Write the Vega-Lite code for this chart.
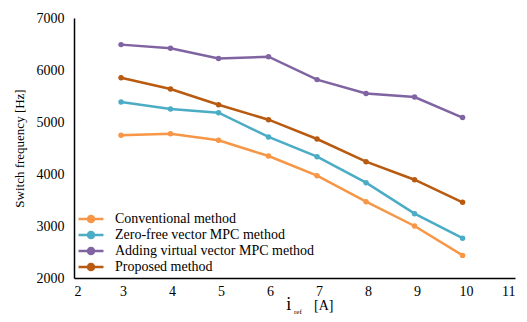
{
  "$schema": "https://vega.github.io/schema/vega-lite/v6.json",
  "autosize": "none",
  "width": 441,
  "height": 260,
  "padding": {"left": 74, "top": 18, "right": 12, "bottom": 44},
  "background": "white",
  "config": {
    "view": {"stroke": null},
    "font": "Liberation Serif",
    "axis": {"grid": false, "ticks": false, "domainColor": "#000000", "domainWidth": 1.5, "labelFont": "Liberation Serif", "labelFontSize": 14, "labelColor": "#000000", "titleFont": "Liberation Serif", "titleColor": "#000000", "titleFontWeight": "normal"},
    "legend": {"labelFont": "Liberation Serif"}
  },
  "datasets": {
    "series": [
      {"method": "Conventional  method", "iref": 2.96, "freq": 4744},
      {"method": "Conventional  method", "iref": 3.97, "freq": 4775},
      {"method": "Conventional  method", "iref": 4.95, "freq": 4648},
      {"method": "Conventional  method", "iref": 5.97, "freq": 4346},
      {"method": "Conventional  method", "iref": 6.96, "freq": 3967},
      {"method": "Conventional  method", "iref": 7.96, "freq": 3467},
      {"method": "Conventional  method", "iref": 8.95, "freq": 3000},
      {"method": "Conventional  method", "iref": 9.93, "freq": 2435},
      {"method": "Zero-free vector MPC method", "iref": 2.96, "freq": 5385},
      {"method": "Zero-free vector MPC method", "iref": 3.97, "freq": 5250},
      {"method": "Zero-free vector MPC method", "iref": 4.95, "freq": 5179},
      {"method": "Zero-free vector MPC method", "iref": 5.97, "freq": 4712},
      {"method": "Zero-free vector MPC method", "iref": 6.96, "freq": 4333},
      {"method": "Zero-free vector MPC method", "iref": 7.96, "freq": 3833},
      {"method": "Zero-free vector MPC method", "iref": 8.95, "freq": 3237},
      {"method": "Zero-free vector MPC method", "iref": 9.93, "freq": 2765},
      {"method": "Adding virtual vector MPC method", "iref": 2.96, "freq": 6488},
      {"method": "Adding virtual vector MPC method", "iref": 3.97, "freq": 6420},
      {"method": "Adding virtual vector MPC method", "iref": 4.95, "freq": 6220},
      {"method": "Adding virtual vector MPC method", "iref": 5.97, "freq": 6255},
      {"method": "Adding virtual vector MPC method", "iref": 6.96, "freq": 5815},
      {"method": "Adding virtual vector MPC method", "iref": 7.96, "freq": 5550},
      {"method": "Adding virtual vector MPC method", "iref": 8.95, "freq": 5480},
      {"method": "Adding virtual vector MPC method", "iref": 9.93, "freq": 5085},
      {"method": "Proposed method", "iref": 2.96, "freq": 5852},
      {"method": "Proposed method", "iref": 3.97, "freq": 5635},
      {"method": "Proposed method", "iref": 4.95, "freq": 5333},
      {"method": "Proposed method", "iref": 5.97, "freq": 5044},
      {"method": "Proposed method", "iref": 6.96, "freq": 4673},
      {"method": "Proposed method", "iref": 7.96, "freq": 4237},
      {"method": "Proposed method", "iref": 8.95, "freq": 3890},
      {"method": "Proposed method", "iref": 9.93, "freq": 3456}
    ],
    "xtitle": [
      {"label": "i", "x": 6.33, "y": 1380, "size": 18, "style": "italic"},
      {"label": "ref", "x": 6.49, "y": 1300, "size": 7, "style": "italic"},
      {"label": "[A]", "x": 6.9, "y": 1380, "size": 14, "style": "normal"}
    ]
  },
  "layer": [
    {
      "data": {"name": "series"},
      "mark": {"type": "line", "strokeWidth": 2.5, "point": {"filled": true, "size": 30}},
      "encoding": {
        "x": {"field": "iref", "type": "quantitative", "scale": {"domain": [2, 11], "nice": false}, "axis": {"values": [2, 3, 4, 5, 6, 7, 8, 9, 10, 11], "format": "d", "title": null, "labelPadding": 6}},
        "y": {"field": "freq", "type": "quantitative", "scale": {"domain": [2000, 7000], "nice": false}, "axis": {"values": [2000, 2500, 3000, 3500, 4000, 4500, 5000, 5500, 6000, 6500, 7000], "format": "d", "title": "Switch frequency [Hz]", "titleFontSize": 13, "labelPadding": 10, "titlePadding": 10}},
        "color": {
          "field": "method",
          "type": "nominal",
          "scale": {"domain": ["Conventional  method", "Zero-free vector MPC method", "Adding virtual vector MPC method", "Proposed method"], "range": ["#F79646", "#4BACC6", "#8064A2", "#B85A10"]},
          "legend": {"title": null, "orient": "none", "legendX": 10, "legendY": 194, "symbolType": "M-2.4,0H2.4M-0.58,0A0.58,0.58 0 1 1 0.58,0A0.58,0.58 0 1 1 -0.58,0Z", "symbolSize": 108, "symbolStrokeWidth": 2.5, "labelFont": "Liberation Serif", "labelFontSize": 14, "labelColor": "#000000", "rowPadding": -3, "labelOffset": 17, "labelLimit": 300}
        }
      }
    },
    {
      "data": {"name": "xtitle"},
      "mark": {"type": "text", "font": "Liberation Serif", "color": "#000000", "align": "left", "baseline": "alphabetic"},
      "encoding": {
        "x": {"field": "x", "type": "quantitative"},
        "y": {"field": "y", "type": "quantitative"},
        "text": {"field": "label"},
        "size": {"field": "size", "type": "quantitative", "scale": null},
        "fontStyle": {"field": "style"}
      }
    }
  ]
}
